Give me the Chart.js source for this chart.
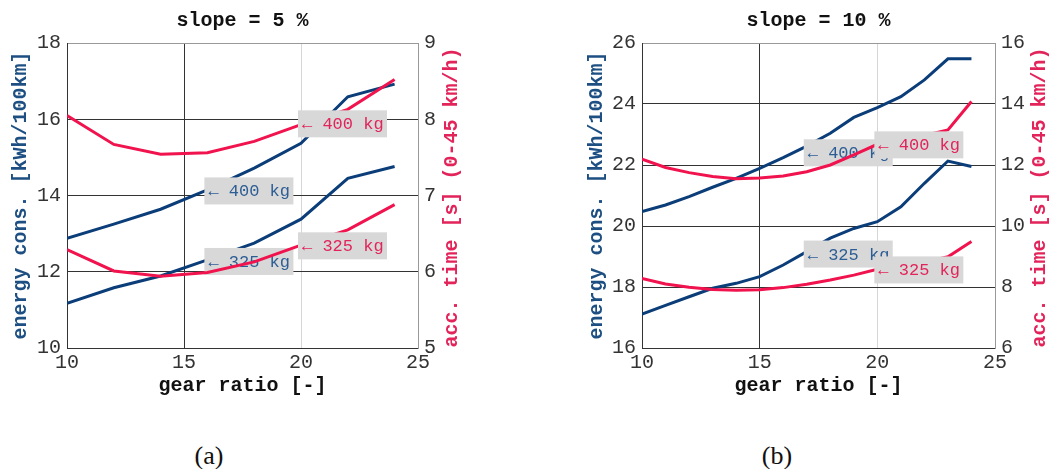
<!DOCTYPE html>
<html>
<head>
<meta charset="utf-8">
<script src="https://cdn.jsdelivr.net/npm/chart.js@4.4.1/dist/chart.umd.min.js"></script>
<style>
    body { margin: 0; background: #fff; width: 1050px; height: 469px; position: relative; overflow: hidden; }
    canvas { position: absolute; top: 0; }
    #chartA { left: 0; }
    #chartB { left: 587px; }
    .caption { position: absolute; top: 441px; line-height: 30px; font-family: 'Liberation Serif', serif; font-size: 26px; color: #111; transform: translateX(-50%); }
</style>
</head>
<body>
<canvas id="chartA" width="485" height="400"></canvas>
<canvas id="chartB" width="463" height="400"></canvas>
<div class="caption" style="left:209px">(a)</div>
<div class="caption" style="left:777px">(b)</div>
<script>
const BLUE = '#0b3d79';
const RED = '#f0134d';
const BLUE_TEXT = '#2c5d94';
const RED_TEXT = '#e2245a';

// ── slope = 5 % ───────────────────────────────────────────────
const gearA = [10, 12, 14, 16, 18, 20, 22, 24];
const energy400A = [12.88, 13.25, 13.64, 14.15, 14.72, 15.37, 16.59, 16.92];
const energy325A = [11.17, 11.58, 11.89, 12.31, 12.75, 13.38, 14.45, 14.76];
const accel400A = [8.05, 7.67, 7.54, 7.56, 7.71, 7.93, 8.13, 8.52];
const accel325A = [6.29, 6.01, 5.94, 5.99, 6.13, 6.35, 6.55, 6.88];
const notesA = [
    { x: 16, y: 14.12, axis: 'y', text: '← 400 kg', color: BLUE_TEXT },
    { x: 16, y: 12.27, axis: 'y', text: '← 325 kg', color: BLUE_TEXT },
    { x: 20, y: 7.94, axis: 'y1', text: '← 400 kg', color: RED_TEXT },
    { x: 20, y: 6.34, axis: 'y1', text: '← 325 kg', color: RED_TEXT }
];

// ── slope = 10 % ──────────────────────────────────────────────
const gearB = [10, 11, 12, 13, 14, 15, 16, 17, 18, 19, 20, 21, 22, 23, 24];
const energy400B = [20.47, 20.69, 20.96, 21.27, 21.56, 21.89, 22.24, 22.62, 23.04, 23.56, 23.88, 24.24, 24.79, 25.48, 25.48];
const energy325B = [17.11, 17.40, 17.68, 17.96, 18.12, 18.34, 18.72, 19.16, 19.60, 19.92, 20.14, 20.63, 21.40, 22.13, 21.95];
const accel400B = [12.19, 11.92, 11.75, 11.62, 11.55, 11.57, 11.64, 11.78, 12.00, 12.33, 12.68, 12.82, 12.97, 13.15, 14.08];
const accel325B = [8.28, 8.10, 7.99, 7.92, 7.89, 7.91, 7.98, 8.09, 8.23, 8.39, 8.58, 8.69, 8.81, 8.99, 9.49];
const notesB = [
    { x: 17, y: 22.40, axis: 'y', text: '← 400 kg', color: BLUE_TEXT },
    { x: 17, y: 19.08, axis: 'y', text: '← 325 kg', color: BLUE_TEXT },
    { x: 20, y: 12.66, axis: 'y1', text: '← 400 kg', color: RED_TEXT },
    { x: 20, y: 8.56, axis: 'y1', text: '← 325 kg', color: RED_TEXT }
];

const MONO = '"Liberation Mono", monospace';
Chart.defaults.font.family = MONO;

function pts(xs, ys) {
    return xs.map((x, i) => ({ x, y: ys[i] }));
}

// grey label boxes, drawn right after the blue (y) or red (y1) lines
const labelBoxes = {
    id: 'labelBoxes',
    afterDatasetDraw(chart, args, opts) {
        const group = args.index === 2 ? 'y' : args.index === 0 ? 'y1' : null;
        if (!group) return;
        const ctx = chart.ctx;
        ctx.save();
        ctx.font = '17px ' + MONO;
        ctx.textBaseline = 'middle';
        opts.items.filter(l => l.axis === group).forEach(l => {
            const px = chart.scales.x.getPixelForValue(l.x);
            const py = chart.scales[l.axis].getPixelForValue(l.y);
            ctx.fillStyle = '#d8d8d8';
            ctx.fillRect(px - 3, py - 13.5, 89, 27);
            ctx.fillStyle = l.color;
            ctx.fillText(l.text, px + 1, py + 1);
        });
        ctx.restore();
    }
};

// right axis title reads bottom-to-top, like the left one
const rightTitle = {
    id: 'rightTitle',
    afterDraw(chart, args, opts) {
        const ctx = chart.ctx, a = chart.chartArea;
        ctx.save();
        ctx.translate(opts.x, (a.top + a.bottom) / 2 + 2);
        ctx.rotate(-Math.PI / 2);
        ctx.font = 'bold 20px ' + MONO;
        ctx.fillStyle = opts.color;
        ctx.textAlign = 'center';
        ctx.textBaseline = 'middle';
        ctx.fillText(opts.text, 0, 0);
        ctx.restore();
    }
};

function makeChart(id, cfg) {
    const tickFont = { family: MONO, size: 20, weight: 'normal' };
    return new Chart(document.getElementById(id), {
        type: 'line',
        data: {
            datasets: [
                { data: pts(cfg.gear, cfg.acc400), borderColor: RED, yAxisID: 'y1' },
                { data: pts(cfg.gear, cfg.acc325), borderColor: RED, yAxisID: 'y1' },
                { data: pts(cfg.gear, cfg.en400), borderColor: BLUE, yAxisID: 'y' },
                { data: pts(cfg.gear, cfg.en325), borderColor: BLUE, yAxisID: 'y' }
            ]
        },
        options: {
            responsive: false,
            animation: false,
            devicePixelRatio: 1,
            layout: { padding: 0 },
            elements: {
                point: { radius: 0 },
                line: { borderWidth: 3, tension: 0, fill: false }
            },
            plugins: {
                legend: { display: false },
                tooltip: { enabled: false },
                title: {
                    display: true,
                    text: cfg.title,
                    color: '#111',
                    font: { family: MONO, size: 20, weight: 'bold', lineHeight: 1.2 },
                    padding: { top: 9, bottom: 10 }
                },
                labelBoxes: { items: cfg.notes },
                rightTitle: { x: cfg.rightTitleX, text: 'acc. time [s] (0-45 km/h)', color: RED_TEXT }
            },
            scales: {
                x: {
                    type: 'linear',
                    min: 10, max: 25,
                    afterFit: s => { s.height = 52; },
                    ticks: { stepSize: 5, color: '#333', font: tickFont, padding: 3, maxRotation: 0 },
                    grid: {
                        drawTicks: false,
                        color: c => c.tick.value === 20 ? '#d6d6d6' : c.tick.value === 25 ? '#999' : '#333'
                    },
                    border: { color: '#333' },
                    title: {
                        display: true,
                        text: 'gear ratio [-]',
                        color: '#111',
                        font: { family: MONO, size: 20, weight: 'bold', lineHeight: 1.2 },
                        padding: { top: 0, bottom: 2 }
                    }
                },
                y: {
                    position: 'left',
                    min: cfg.yMin, max: cfg.yMax,
                    afterFit: s => { s.width = cfg.sideWidth; },
                    ticks: { stepSize: 2, color: '#333', font: tickFont, padding: 6 },
                    grid: {
                        drawTicks: false,
                        color: c => c.tick.value === cfg.yMax ? '#999' : '#333'
                    },
                    border: { color: '#333' },
                    title: {
                        display: true,
                        text: 'energy cons. [kWh/100km]',
                        color: '#1d4f82',
                        font: { family: MONO, size: 20, weight: 'bold', lineHeight: 1 },
                        padding: { top: cfg.leftTitlePad, bottom: 0 }
                    }
                },
                y1: {
                    position: 'right',
                    min: cfg.y1Min, max: cfg.y1Max,
                    afterFit: s => { s.width = cfg.sideWidth; },
                    ticks: { stepSize: cfg.y1Step, color: '#333', font: tickFont, padding: 6 },
                    grid: { display: false, drawTicks: false },
                    border: { color: '#999' }
                }
            }
        },
        plugins: [labelBoxes, rightTitle]
    });
}

makeChart('chartA', {
    title: 'slope = 5 %',
    gear: gearA, en400: energy400A, en325: energy325A, acc400: accel400A, acc325: accel325A,
    notes: notesA,
    yMin: 10, yMax: 18, y1Min: 5, y1Max: 9, y1Step: 1,
    sideWidth: 67, leftTitlePad: 11, rightTitleX: 452
});

makeChart('chartB', {
    title: 'slope = 10 %',
    gear: gearB, en400: energy400B, en325: energy325B, acc400: accel400B, acc325: accel325B,
    notes: notesB,
    yMin: 16, yMax: 26, y1Min: 6, y1Max: 16, y1Step: 2,
    sideWidth: 55, leftTitlePad: 0, rightTitleX: 453
});
</script>
</body>
</html>
